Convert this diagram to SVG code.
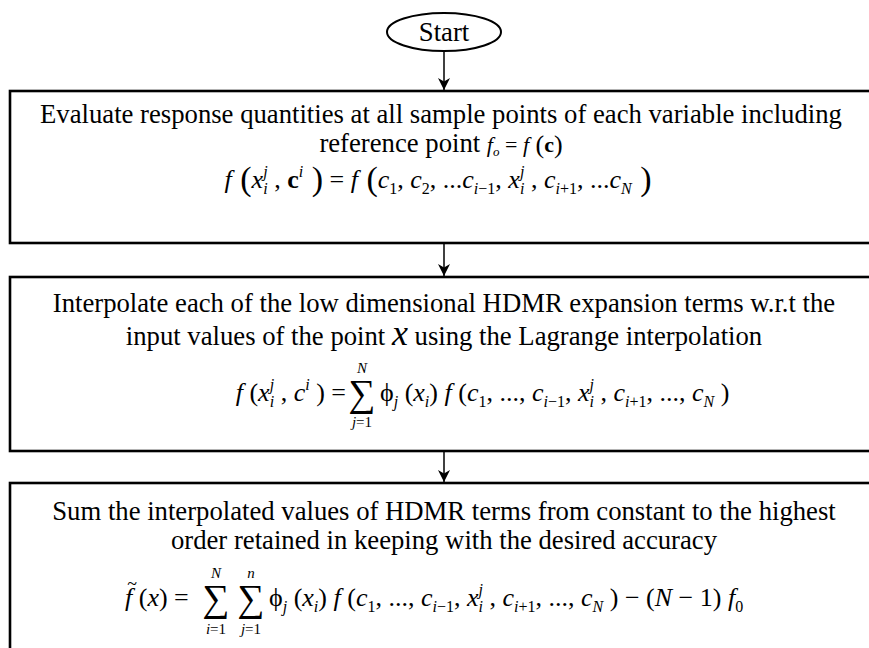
<svg xmlns="http://www.w3.org/2000/svg" width="869" height="648" viewBox="0 0 869 648">
<style>
.t{font-family:"Liberation Serif","Times New Roman",serif;font-size:26.7px;fill:#000}
.f{font-family:"Liberation Serif","Times New Roman",serif;font-size:26px;fill:#000}
.i{font-style:italic}
.s{font-size:16px}
.lim{font-family:"Liberation Serif","Times New Roman",serif;font-size:15px;fill:#000}
.sig{font-family:"Liberation Serif","Times New Roman",serif;font-size:38px;fill:#000}
.b{font-weight:bold}
.box{fill:#fff;stroke:#000;stroke-width:2.6}
.arr{stroke:#000;stroke-width:1.5;fill:none;marker-end:url(#ah)}
</style>
<defs>
<marker id="ah" viewBox="0 0 12 12" refX="12" refY="6" markerWidth="12" markerHeight="12" markerUnits="userSpaceOnUse" orient="auto"><path d="M0,0 L12,6 L0,12 L3.5,6 z" fill="#000"/></marker>
</defs>
<rect width="869" height="648" fill="#fff"/>
<g id="start">
<ellipse cx="444" cy="32" rx="57" ry="19" fill="#fff" stroke="#000" stroke-width="2"/>
<text class="t" x="444" y="41" text-anchor="middle">Start</text>
</g>
<g id="connectors">
<line class="arr" x1="444" y1="51" x2="444" y2="90"/>
<line class="arr" x1="444" y1="244" x2="444" y2="276"/>
<line class="arr" x1="444" y1="452" x2="444" y2="482"/>
</g>
<g id="evaluate">
<rect class="box" x="10" y="91" width="880" height="152"/>
<text class="t" x="441" y="123" text-anchor="middle">Evaluate response quantities at all sample points of each variable including</text>
<text class="t" x="441" y="152" text-anchor="middle">reference point  <tspan class="i" style="font-size:22px">f</tspan><tspan class="i" style="font-size:13px" dy="4">o</tspan><tspan style="font-size:22px" dy="-4"> = </tspan><tspan class="i" style="font-size:22px">f</tspan><tspan style="font-size:26px" dy="1"> (</tspan><tspan style="font-size:22px" class="b" dy="-1">c</tspan><tspan style="font-size:26px" dy="1">)</tspan></text>
<text class="f" x="438" y="188" text-anchor="middle"><tspan class="i">f</tspan><tspan style="font-size:34px" dy="2"> (</tspan><tspan class="i" dy="-2">x</tspan><tspan class="s i" dy="-11">j</tspan><tspan class="s i" dx="-4.4" dy="17">i</tspan><tspan dy="-6"> , </tspan><tspan class="b">c</tspan><tspan class="s i" dy="-11">i</tspan><tspan style="font-size:34px" dy="13"> )</tspan><tspan dy="-2"> = </tspan><tspan class="i">f</tspan><tspan style="font-size:34px" dy="2"> (</tspan><tspan class="i" dy="-2">c</tspan><tspan class="s" dy="6">1</tspan><tspan dy="-6">, </tspan><tspan class="i">c</tspan><tspan class="s" dy="6">2</tspan><tspan dy="-6">, ...</tspan><tspan class="i">c</tspan><tspan class="s" dy="6"><tspan class="i">i</tspan>−1</tspan><tspan dy="-6">, </tspan><tspan class="i">x</tspan><tspan class="s i" dy="-11">j</tspan><tspan class="s i" dx="-4.4" dy="17">i</tspan><tspan dy="-6"> , </tspan><tspan class="i">c</tspan><tspan class="s" dy="6"><tspan class="i">i</tspan>+1</tspan><tspan dy="-6">, ...</tspan><tspan class="i">c</tspan><tspan class="s i" dy="6">N</tspan><tspan style="font-size:34px" dy="-4"> )</tspan></text>
</g>
<g id="interpolate">
<rect class="box" x="10" y="277" width="880" height="174"/>
<text class="t" x="444" y="312" text-anchor="middle">Interpolate each of the low dimensional HDMR expansion terms w.r.t the</text>
<text class="t" x="444" y="345" text-anchor="middle">input values of the point  <tspan class="i" style="font-size:36px">x</tspan>  using the Lagrange interpolation</text>
<text class="f" x="346" y="401" text-anchor="end"><tspan class="i">f</tspan> (<tspan class="i">x</tspan><tspan class="s i" dy="-11">j</tspan><tspan class="s i" dx="-4.4" dy="17">i</tspan><tspan dy="-6"> , </tspan><tspan class="i">c</tspan><tspan class="s i" dy="-11">i</tspan><tspan dy="11"> ) = </tspan></text>
<text class="sig" x="362" y="406" text-anchor="middle">∑</text>
<text class="lim i" x="362" y="373" text-anchor="middle">N</text>
<text class="lim" x="362" y="427" text-anchor="middle"><tspan class="i">j</tspan>=1</text>
<text class="f" x="380" y="401"><tspan>ϕ</tspan><tspan class="s i" dy="6">j</tspan><tspan dy="-6"> (</tspan><tspan class="i">x</tspan><tspan class="s i" dy="6">i</tspan><tspan dy="-6">) </tspan><tspan class="i">f</tspan><tspan> (</tspan><tspan class="i">c</tspan><tspan class="s" dy="6">1</tspan><tspan dy="-6">, ..., </tspan><tspan class="i">c</tspan><tspan class="s" dy="6"><tspan class="i">i</tspan>−1</tspan><tspan dy="-6">, </tspan><tspan class="i">x</tspan><tspan class="s i" dy="-11">j</tspan><tspan class="s i" dx="-4.4" dy="17">i</tspan><tspan dy="-6"> , </tspan><tspan class="i">c</tspan><tspan class="s" dy="6"><tspan class="i">i</tspan>+1</tspan><tspan dy="-6">, ..., </tspan><tspan class="i">c</tspan><tspan class="s i" dy="6">N</tspan><tspan dy="-6"> )</tspan></text>
</g>
<g id="sum">
<rect class="box" x="10" y="483" width="880" height="200"/>
<text class="t" x="444" y="520" text-anchor="middle">Sum the interpolated values of HDMR terms from constant to the highest</text>
<text class="t" x="444" y="549" text-anchor="middle">order retained in keeping with the desired accuracy</text>
<text class="f" x="125" y="606"><tspan class="i">f</tspan> (<tspan class="i">x</tspan>) =</text>
<text class="lim" x="132" y="590" text-anchor="middle" style="font-size:18px">~</text>
<text class="sig" x="216" y="611" text-anchor="middle">∑</text>
<text class="sig" x="251" y="611" text-anchor="middle">∑</text>
<text class="lim i" x="216" y="578" text-anchor="middle">N</text>
<text class="lim i" x="251" y="578" text-anchor="middle">n</text>
<text class="lim" x="216" y="634" text-anchor="middle"><tspan class="i">i</tspan>=1</text>
<text class="lim" x="251" y="634" text-anchor="middle"><tspan class="i">j</tspan>=1</text>
<text class="f" x="269" y="606"><tspan>ϕ</tspan><tspan class="s i" dy="6">j</tspan><tspan dy="-6"> (</tspan><tspan class="i">x</tspan><tspan class="s i" dy="6">i</tspan><tspan dy="-6">) </tspan><tspan class="i">f</tspan><tspan> (</tspan><tspan class="i">c</tspan><tspan class="s" dy="6">1</tspan><tspan dy="-6">, ..., </tspan><tspan class="i">c</tspan><tspan class="s" dy="6"><tspan class="i">i</tspan>−1</tspan><tspan dy="-6">, </tspan><tspan class="i">x</tspan><tspan class="s i" dy="-11">j</tspan><tspan class="s i" dx="-4.4" dy="17">i</tspan><tspan dy="-6"> , </tspan><tspan class="i">c</tspan><tspan class="s" dy="6"><tspan class="i">i</tspan>+1</tspan><tspan dy="-6">, ..., </tspan><tspan class="i">c</tspan><tspan class="s i" dy="6">N</tspan><tspan dy="-6"> ) − (</tspan><tspan class="i">N</tspan><tspan> − 1) </tspan><tspan class="i">f</tspan><tspan class="s" dy="6">0</tspan></text>
</g>
</svg>
